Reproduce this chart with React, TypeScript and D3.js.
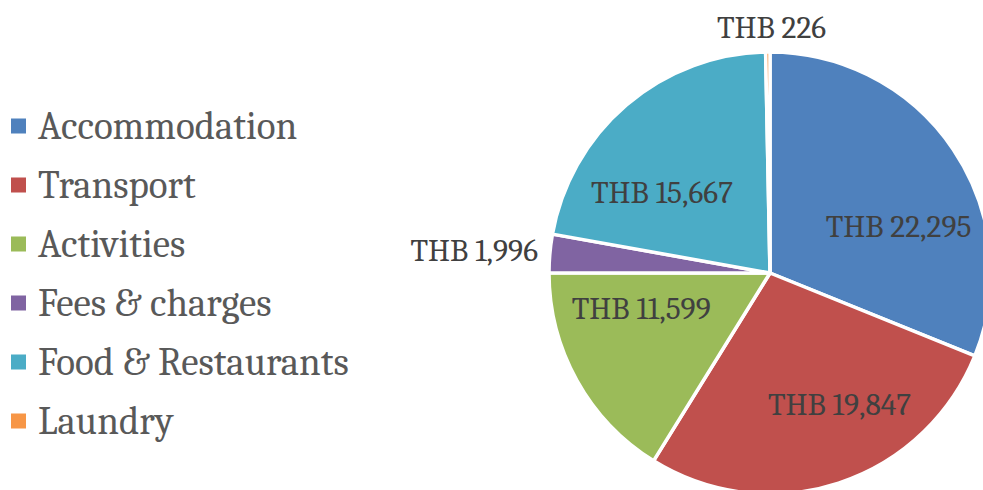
import { useEffect, useRef } from "react";
import * as d3 from "d3";

const categories = [
  "Accommodation",
  "Transport",
  "Activities",
  "Fees & charges",
  "Food & Restaurants",
  "Laundry",
];
const amounts = [22295, 19847, 11599, 1996, 15667, 226];
const labels = ["THB 22,295", "THB 19,847", "THB 11,599", "THB 1,996", "THB 15,667", "THB 226"];
const colors = ["#4F81BD", "#C0504D", "#9BBB59", "#8064A2", "#4BACC6", "#F79646"];

const App: React.FC = () => {
  const ref = useRef<SVGSVGElement>(null);

  useEffect(() => {
    const svg = d3.select(ref.current);
    svg.selectAll("*").remove();

    const cx = 770;
    const cy = 273;
    const radius = 221;
    const font = "Cambria, 'DejaVu Serif', serif";

    const pie = d3
      .pie<number>()
      .sort(null)
      .value((d) => d);
    const arcs = pie(amounts);
    const arc = d3.arc<d3.PieArcDatum<number>>().innerRadius(0).outerRadius(radius);
    const labelArc = d3.arc<d3.PieArcDatum<number>>().innerRadius(137).outerRadius(137);
    const outerArc = d3.arc<d3.PieArcDatum<number>>().innerRadius(radius + 24).outerRadius(radius + 24);

    const g = svg.append("g").attr("transform", `translate(${cx},${cy})`);

    g.selectAll("path")
      .data(arcs)
      .enter()
      .append("path")
      .attr("d", arc)
      .attr("fill", (_, i) => colors[i])
      .attr("stroke", "#fff")
      .attr("stroke-width", 3.5)
      .attr("stroke-linejoin", "round");

    // Excel-ish label placement: inside labels nudged from centroid, small slices outside
    const nudge: [number, number][] = [
      [15, 31],
      [27, 2],
      [-9, -31],
      [12, 0],
      [-19, 24],
      [4, 0],
    ];
    const outside = [false, false, false, true, false, true];

    g.selectAll("text.label")
      .data(arcs)
      .enter()
      .append("text")
      .attr("class", "label")
      .attr("x", (d, i) => (outside[i] ? outerArc.centroid(d)[0] : labelArc.centroid(d)[0]) + nudge[i][0])
      .attr("y", (d, i) => (outside[i] ? outerArc.centroid(d)[1] : labelArc.centroid(d)[1]) + nudge[i][1])
      .attr("text-anchor", (_, i) => (i === 3 ? "end" : "middle"))
      .attr("dominant-baseline", "central")
      .attr("font-family", font)
      .attr("font-size", 31.5)
      .attr("fill", "#404040")
      .text((_, i) => labels[i]);

    // Legend
    const legend = d3
      .scaleBand<string>()
      .domain(categories)
      .range([97, 451]);

    const item = svg
      .selectAll("g.legend")
      .data(categories)
      .enter()
      .append("g")
      .attr("class", "legend")
      .attr("transform", (d) => `translate(0,${legend(d)! + legend.bandwidth() / 2})`);

    item
      .append("rect")
      .attr("x", 11)
      .attr("y", -8)
      .attr("width", 15)
      .attr("height", 15)
      .attr("fill", (_, i) => colors[i]);

    item
      .append("text")
      .attr("x", 38)
      .attr("y", 0)
      .attr("dominant-baseline", "central")
      .attr("font-family", font)
      .attr("font-size", 39)
      .attr("fill", "#595959")
      .text((d) => d);
  }, []);

  return (
    <svg
      ref={ref}
      width={983}
      height={490}
      style={{ position: "absolute", left: 0, top: 0, background: "#fff" }}
    />
  );
};

export default App;
